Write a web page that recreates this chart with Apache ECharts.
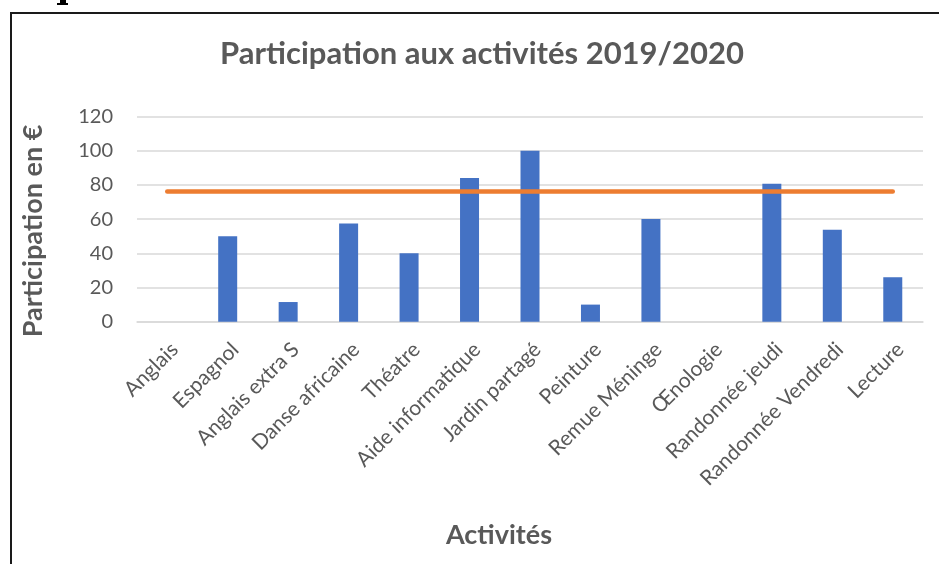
<!DOCTYPE html>
<html>
<head>
<meta charset="utf-8">
<script src="https://cdn.jsdelivr.net/npm/echarts@6/dist/echarts.min.js"></script>
<style>
html,body{margin:0;padding:0;background:#fff;}
#chart{width:939px;height:564px;}
</style>
</head>
<body>
<div id="chart"></div>
<script>
var categories = ['Anglais','Espagnol','Anglais extra S','Danse africaine','Théatre','Aide informatique','Jardin partagé','Peinture','Remue Méninge','Œnologie','Randonnée jeudi','Randonnée Vendredi','Lecture'];
var participation = [0, 50, 11.5, 57.5, 40, 84, 100, 10, 60, 0, 80.6, 53.7, 26];
var reference = [76.2, 76.2, 76.2, 76.2, 76.2, 76.2, 76.2, 76.2, 76.2, 76.2, 76.2, 76.2, 76.2];
var yTicks = {min: 0, max: 120, interval: 20};
var titleText = 'Participation aux activités 2019/2020';
var yName = 'Participation en €';
var xName = 'Activités';

var FONT = 'Lato';
var chart = echarts.init(document.getElementById('chart'));
chart.setOption({
  backgroundColor: '#ffffff',
  animation: false,
  title: {
    text: titleText,
    left: 477, top: 33,
    textAlign: 'center',
    textStyle: {fontFamily: FONT, fontWeight: 'bold', fontSize: 31, color: '#595959'}
  },
  grid: {left: 137, right: 16, top: 116.5, bottom: 242.3, containLabel: false},
  xAxis: {
    type: 'category',
    data: categories,
    axisLine: {lineStyle: {color: '#d9d9d9', width: 1.5}},
    axisTick: {show: false},
    axisLabel: {rotate: 45, margin: 17, interval: 0, verticalAlign: 'top', color: '#595959', fontFamily: FONT, fontSize: 21}
  },
  yAxis: {
    type: 'value',
    min: yTicks.min, max: yTicks.max, interval: yTicks.interval,
    axisLine: {show: false},
    axisTick: {show: false},
    splitLine: {lineStyle: {color: '#d9d9d9', width: 1.5}},
    axisLabel: {margin: 24, color: '#595959', fontFamily: FONT, fontSize: 20}
  },
  series: [
    {
      type: 'bar',
      data: participation,
      barWidth: 19,
      itemStyle: {color: '#4472C4'}
    },
    {
      type: 'line',
      data: reference,
      symbol: 'none',
      lineStyle: {color: '#ED7D31', width: 4.5, cap: 'round'},
      z: 3
    }
  ],
  graphic: [
    {type: 'line', shape: {x1: 10, y1: 13, x2: 939, y2: 13}, style: {stroke: '#1a1a1a', lineWidth: 2}},
    {type: 'line', shape: {x1: 11, y1: 13, x2: 11, y2: 564}, style: {stroke: '#1a1a1a', lineWidth: 2}},
    {type: 'rect', shape: {x: 60, y: 0, width: 6, height: 4}, style: {fill: '#000'}},
    {type: 'rect', shape: {x: 57, y: 3, width: 11, height: 2}, style: {fill: '#000'}},
    {
      type: 'text', x: 33, y: 231, rotation: Math.PI / 2,
      style: {text: yName, fontFamily: FONT, fontWeight: 'bold', fontSize: 27, fill: '#595959', align: 'center', verticalAlign: 'middle'}
    },
    {
      type: 'text', x: 499, y: 535,
      style: {text: xName, fontFamily: FONT, fontWeight: 'bold', fontSize: 27, fill: '#595959', align: 'center', verticalAlign: 'middle'}
    }
  ]
});
</script>
</body>
</html>
